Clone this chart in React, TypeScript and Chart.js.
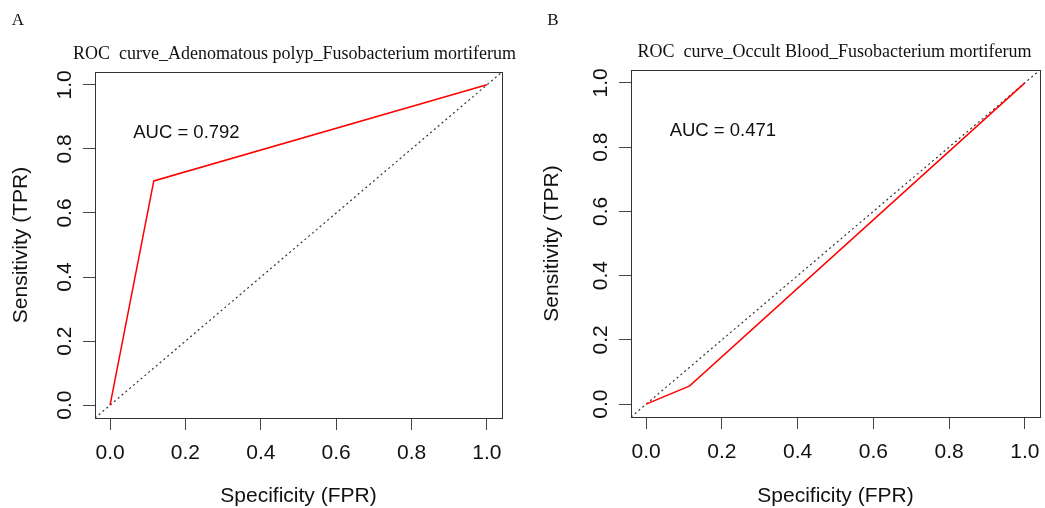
import React, { useEffect, useRef } from "react";
import { Chart, registerables } from "chart.js";

Chart.register(...registerables);

// ---- data ----
const AXIS_MIN = -0.04;
const AXIS_MAX = 1.04;
const tickValues = [0, 0.2, 0.4, 0.6, 0.8, 1.0];
const xTickLabels = ["0.0", "0.2", "0.4", "0.6", "0.8", "1.0"];
const yTickLabels = ["0.0", "0.2", "0.4", "0.6", "0.8", "1.0"];

const rocA_fpr = [0, 0.116, 1];
const rocA_tpr = [0, 0.7, 1];
const rocB_fpr = [0, 0.115, 1];
const rocB_tpr = [0, 0.057, 1];

const refLine = [AXIS_MIN, AXIS_MAX];

const titleA = "ROC  curve_Adenomatous polyp_Fusobacterium mortiferum";
const titleB = "ROC  curve_Occult Blood_Fusobacterium mortiferum";
const aucA = "AUC = 0.792";
const aucB = "AUC = 0.471";
const aucPos = [0.2, 0.85];
const xTitle = "Specificity (FPR)";
const yTitle = "Sensitivity (TPR)";
const panelLetters = ["A", "B"];

const SANS = '"Liberation Sans", Arial, sans-serif';
const SERIF = '"Liberation Serif", "Times New Roman", serif';
const TEXT = "#111";

type PanelProps = {
  left: number;
  width: number;
  height: number;
  boxLeft: number;
  boxRight: number;
  boxTop: number;
  boxBottom: number;
  fpr: number[];
  tpr: number[];
  title: string;
  titleShift: number;
  auc: string;
  letter: string;
  letterX: number;
  yTitlePad: number;
};

function Panel(p: PanelProps) {
  const ref = useRef<HTMLCanvasElement | null>(null);
  useEffect(() => {
    if (!ref.current) return;
    const overlay = {
      id: "overlay",
      afterDraw(chart: any) {
        const { ctx, chartArea: a, scales } = chart;
        ctx.save();
        // frame
        ctx.strokeStyle = "#333";
        ctx.lineWidth = 1;
        ctx.strokeRect(
          Math.round(a.left) + 0.5,
          Math.round(a.top) + 0.5,
          Math.round(a.right - a.left),
          Math.round(a.bottom - a.top)
        );
        // y tick labels (rotated, like R)
        ctx.fillStyle = TEXT;
        ctx.font = `21px ${SANS}`;
        tickValues.forEach((v, i) => {
          const y = scales.y.getPixelForValue(v);
          ctx.save();
          ctx.translate(a.left - 24, y);
          ctx.rotate(-Math.PI / 2);
          ctx.textAlign = "center";
          ctx.textBaseline = "alphabetic";
          ctx.fillText(yTickLabels[i], 0, 0);
          ctx.restore();
        });
        // main title
        ctx.font = `18px ${SERIF}`;
        ctx.textAlign = "center";
        ctx.textBaseline = "alphabetic";
        ctx.fillText(p.title, (a.left + a.right) / 2 + p.titleShift, a.top - 13);
        // panel letter
        ctx.font = `17px ${SERIF}`;
        ctx.textAlign = "center";
        ctx.fillText(p.letter, p.letterX, 25);
        // AUC text
        ctx.font = `18.5px ${SANS}`;
        ctx.textAlign = "center";
        ctx.textBaseline = "middle";
        ctx.fillText(
          p.auc,
          scales.x.getPixelForValue(aucPos[0]) + 1,
          scales.y.getPixelForValue(aucPos[1])
        );
        ctx.restore();
      },
    };

    const chart = new Chart(ref.current, {
      type: "scatter",
      data: {
        datasets: [
          {
            label: "ROC",
            data: p.fpr.map((x, i) => ({ x, y: p.tpr[i] })),
            showLine: true,
            borderColor: "#ff0000",
            backgroundColor: "#ff0000",
            borderWidth: 1.5,
            pointRadius: 0,
            tension: 0,
          },
          {
            label: "reference",
            data: refLine.map((v) => ({ x: v, y: v })),
            showLine: true,
            borderColor: "#333",
            backgroundColor: "#333",
            borderWidth: 1.2,
            borderDash: [2, 3],
            pointRadius: 0,
            tension: 0,
          },
        ],
      },
      options: {
        responsive: false,
        animation: false,
        events: [],
        layout: {
          padding: {
            left: 0,
            top: p.boxTop,
            right: p.width - p.boxRight,
            bottom: 0,
          },
        },
        plugins: {
          legend: { display: false },
          tooltip: { enabled: false },
          title: { display: false },
        },
        scales: {
          x: {
            type: "linear",
            min: AXIS_MIN,
            max: AXIS_MAX,
            afterBuildTicks: (s: any) => {
              s.ticks = tickValues.map((v) => ({ value: v }));
            },
            afterFit: (s: any) => {
              s.height = p.height - p.boxBottom;
              s.paddingLeft = 0;
              s.paddingRight = 0;
            },
            ticks: {
              autoSkip: false,
              maxRotation: 0,
              minRotation: 0,
              padding: 11,
              color: TEXT,
              font: { family: SANS, size: 21 },
              callback: (_v: any, i: number) => xTickLabels[i],
            },
            grid: {
              display: true,
              drawOnChartArea: false,
              drawTicks: true,
              tickLength: 12,
              color: "#444",
              lineWidth: 1,
            },
            border: { display: false },
            title: {
              display: true,
              text: xTitle,
              color: TEXT,
              font: { family: SANS, size: 21 },
              padding: { top: 0, bottom: -1 },
            },
          },
          y: {
            type: "linear",
            min: AXIS_MIN,
            max: AXIS_MAX,
            afterBuildTicks: (s: any) => {
              s.ticks = tickValues.map((v) => ({ value: v }));
            },
            afterFit: (s: any) => {
              s.width = p.boxLeft;
              s.paddingTop = 0;
              s.paddingBottom = 0;
            },
            ticks: { display: false },
            grid: {
              display: true,
              drawOnChartArea: false,
              drawTicks: true,
              tickLength: 12,
              color: "#444",
              lineWidth: 1,
            },
            border: { display: false },
            title: {
              display: true,
              text: yTitle,
              color: TEXT,
              font: { family: SANS, size: 21 },
              padding: { top: p.yTitlePad, bottom: 0 },
            },
          },
        },
      },
      plugins: [overlay],
    });
    return () => chart.destroy();
  }, []);

  return (
    <canvas
      ref={ref}
      width={p.width}
      height={p.height}
      style={{
        position: "absolute",
        left: p.left,
        top: 0,
        width: p.width,
        height: p.height,
        display: "block",
      }}
    />
  );
}

export default function App() {
  return (
    <div
      style={{
        position: "fixed",
        left: 0,
        top: 0,
        width: 1045,
        height: 508,
        background: "#fff",
        overflow: "hidden",
      }}
    >
      <Panel
        left={0}
        width={522}
        height={508}
        boxLeft={95}
        boxRight={502}
        boxTop={72}
        boxBottom={418}
        fpr={rocA_fpr}
        tpr={rocA_tpr}
        title={titleA}
        titleShift={-4}
        auc={aucA}
        letter={panelLetters[0]}
        letterX={18}
        yTitlePad={9}
      />
      <Panel
        left={522}
        width={523}
        height={508}
        boxLeft={109}
        boxRight={518}
        boxTop={70}
        boxBottom={417}
        fpr={rocB_fpr}
        tpr={rocB_tpr}
        title={titleB}
        titleShift={-1}
        auc={aucB}
        letter={panelLetters[1]}
        letterX={31}
        yTitlePad={18}
      />
    </div>
  );
}
